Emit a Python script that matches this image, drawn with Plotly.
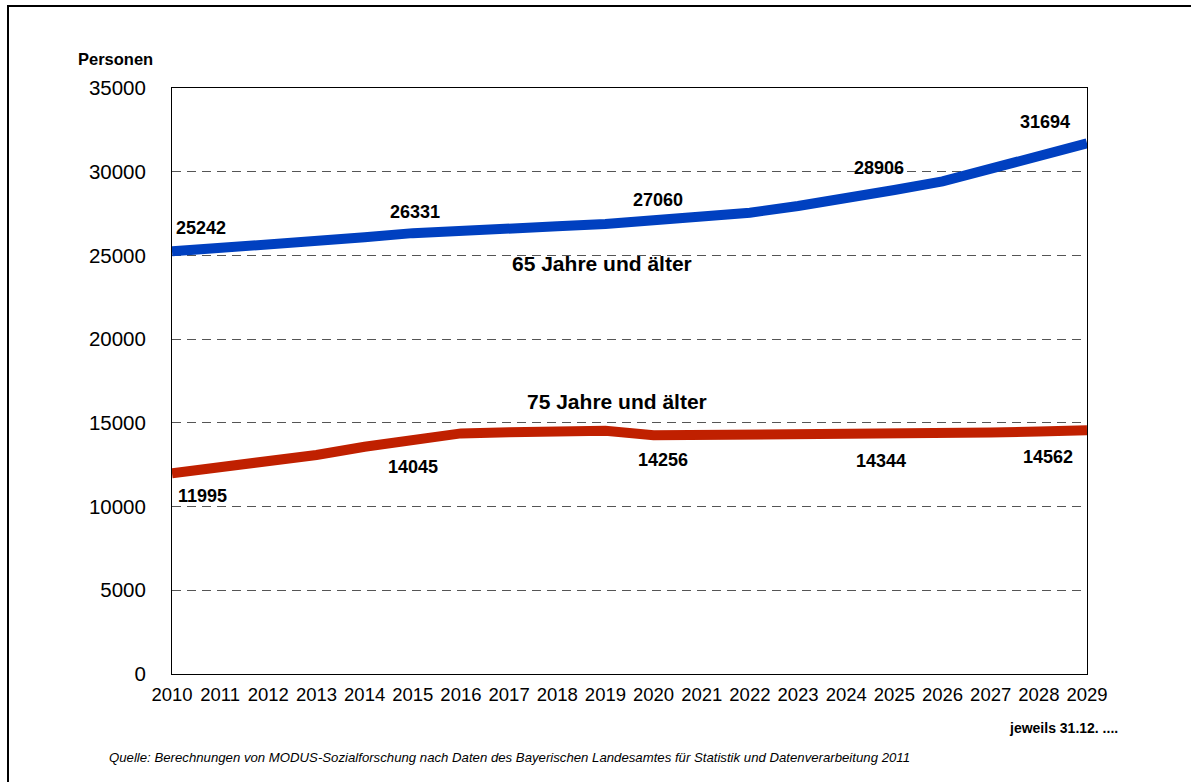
import plotly.graph_objects as go

# Projected population, Dec 31 of each year
years = list(range(2010, 2030))
age_65_plus = [25242, 25420, 25650, 25910, 26080, 26331, 26510, 26620, 26740, 26880,
               27060, 27230, 27550, 27950, 28370, 28906, 29420, 30200, 30980, 31694]
age_75_plus = [11995, 12340, 12680, 13080, 13570, 14045, 14370, 14440, 14510, 14530,
               14256, 14270, 14230, 14290, 14344, 14400, 14380, 14420, 14490, 14562]
y_ticks = list(range(0, 35001, 5000))

# Value labels: (year, value, xshift, yshift)
labels_65 = [(2010, 25242, 29, 23), (2015, 26331, 2, 21), (2020, 27060, 4, 21),
             (2025, 28906, -15, 22), (2029, 31694, -42, 21)]
labels_75 = [(2010, 11995, 30, -23), (2015, 14045, 0, -28), (2020, 14256, 9, -25),
             (2025, 14344, -13, -27), (2029, 14562, -39, -27)]

W, H = 1191, 782
ML, MR, MT, MB = 172, 104, 88, 108
PW, PH = W - ML - MR, H - MT - MB

def px(x):
    return (x - ML) / PW

def py(y):
    return (H - MB - y) / PH

FONT = "Liberation Sans, Arial, sans-serif"
BLUE = "#0040C0"
RED = "#C02000"

fig = go.Figure()
fig.add_trace(go.Scatter(x=years, y=age_65_plus, mode="lines", name="65 Jahre und älter",
                         line=dict(color=BLUE, width=10), cliponaxis=False, showlegend=False))
fig.add_trace(go.Scatter(x=years, y=age_75_plus, mode="lines", name="75 Jahre und älter",
                         line=dict(color=RED, width=10), cliponaxis=False, showlegend=False))

annotations = []
for x, v, dx, dy in labels_65 + labels_75:
    annotations.append(dict(x=x, y=v, xref="x", yref="y", text=str(v), showarrow=False,
                            xshift=dx, yshift=dy,
                            font=dict(family=FONT, size=18, color="black", weight="bold")))

# Series names placed next to the curves
annotations.append(dict(x=2018.93, y=24490, xref="x", yref="y", text="65 Jahre und älter",
                        showarrow=False, font=dict(family=FONT, size=21, color="black", weight="bold")))
annotations.append(dict(x=2019.24, y=16300, xref="x", yref="y", text="75 Jahre und älter",
                        showarrow=False, font=dict(family=FONT, size=21, color="black", weight="bold")))

annotations.append(dict(x=px(115), y=py(59), xref="paper", yref="paper", text="Personen",
                        xanchor="center", yanchor="middle",
                        showarrow=False, font=dict(family=FONT, size=16.5, color="black", weight="bold")))
annotations.append(dict(x=px(1120), y=py(728), xref="paper", yref="paper", xanchor="right",
                        yanchor="middle", text="jeweils 31.12. ....", showarrow=False,
                        font=dict(family=FONT, size=14, color="black", weight="bold")))
annotations.append(dict(x=px(107), y=py(757), xref="paper", yref="paper", xanchor="left",
                        yanchor="middle",
                        text="Quelle: Berechnungen von MODUS-Sozialforschung nach Daten des Bayerischen "
                             "Landesamtes für Statistik und Datenverarbeitung 2011",
                        showarrow=False,
                        font=dict(family=FONT, size=13.2, color="black", style="italic")))

fig.update_layout(
    width=W, height=H,
    margin=dict(l=ML, r=MR, t=MT, b=MB),
    paper_bgcolor="white", plot_bgcolor="white",
    annotations=annotations,
    shapes=[dict(type="rect", xref="paper", yref="paper",
                 x0=px(8), x1=px(1200), y0=py(800), y1=py(6),
                 line=dict(color="black", width=2), fillcolor="rgba(0,0,0,0)", layer="below")],
    xaxis=dict(range=[2010, 2029], tickmode="array", tickvals=years,
               ticktext=[str(y) for y in years],
               showgrid=False, zeroline=False, showline=True, linecolor="black", linewidth=1,
               mirror=True, ticks="", ticklabelstandoff=4,
               tickfont=dict(family=FONT, size=18.5, color="black")),
    yaxis=dict(range=[0, 35000], tickmode="array", tickvals=y_ticks,
               ticktext=[str(v) for v in y_ticks],
               showgrid=True, gridcolor="#555555", gridwidth=1, griddash="9px,6px",
               zeroline=False, showline=True, linecolor="black", linewidth=1, mirror=True,
               ticks="", ticklabelstandoff=21,
               tickfont=dict(family=FONT, size=20.5, color="black")),
)

fig.write_html("out.html")
